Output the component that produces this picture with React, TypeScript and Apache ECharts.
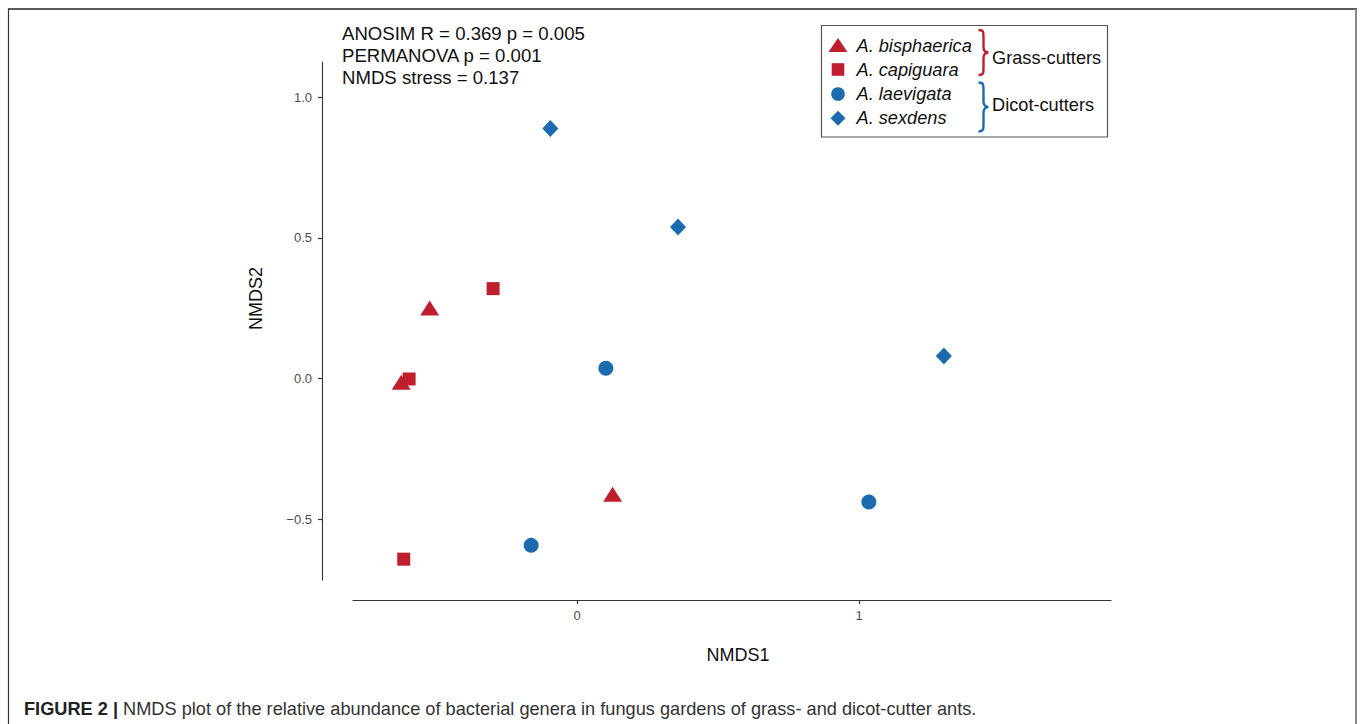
import React, { useEffect, useRef } from "react";
import * as echarts from "echarts";

// ---- data ----
const speciesNames = ["A. bisphaerica", "A. capiguara", "A. laevigata", "A. sexdens"];
const bisphaerica = [[-0.523, 0.251], [-0.624, -0.013], [0.126, -0.41]];
const capiguara = [[-0.298, 0.32], [-0.596, -0.001], [-0.615, -0.641]];
const laevigata = [[0.102, 0.037], [-0.163, -0.592], [1.035, -0.438]];
const sexdens = [[-0.095, 0.889], [0.358, 0.539], [1.301, 0.081]];
const xTicks = [0, 1];
const yTicks = [-0.5, 0, 0.5, 1];
const statsLines = ["ANOSIM R = 0.369 p = 0.005", "PERMANOVA p = 0.001", "NMDS stress = 0.137"];
const groupLabels = ["Grass-cutters", "Dicot-cutters"];
const captionBold = "FIGURE 2 |";
const captionText = " NMDS plot of the relative abundance of bacterial genera in fungus gardens of grass- and dicot-cutter ants.";

const RED = "#BE1E2D";
const BLUE = "#1B6CAE";
const FONT = "'Liberation Sans', Arial, Helvetica, sans-serif";

let braceRegistered = false;
function registerBrace() {
  if (braceRegistered) return;
  braceRegistered = true;
  const d =
    "M0,0 C5,0 5,2 5,7 L5,17 C5,21 7,22.5 10,22.5 C7,22.5 5,24 5,28 L5,38 C5,43 5,45 0,45";
  echarts.graphic.registerShape("brace", echarts.graphic.extendPath(d, {}));
}

function txt(text: string, x: number, y: number, size: number, opts: any = {}) {
  const { align = "left", vAlign = "middle", color = "#111", italic = false, rotation = 0, weight = "normal" } = opts;
  return {
    type: "text",
    x,
    y,
    rotation,
    silent: true,
    style: {
      text,
      fontSize: size,
      fontFamily: FONT,
      fontStyle: italic ? "italic" : "normal",
      fontWeight: weight,
      fill: color,
      align,
      textAlign: align,
      verticalAlign: vAlign,
      textVerticalAlign: vAlign,
    },
  };
}

export default function App() {
  const ref = useRef<HTMLDivElement>(null);

  useEffect(() => {
    document.body.style.margin = "0";
    registerBrace();
    if (!ref.current) return;
    const chart = echarts.init(ref.current, null, { renderer: "svg" });

    const yFmt = (v: number) => (v < 0 ? "\u2212" + Math.abs(v).toFixed(1) : v.toFixed(1));

    const legendRows = [45.5, 69.5, 94, 118.3];
    const legendSymX = 838;

    const graphic: any[] = [
      // figure frame
      { type: "line", silent: true, shape: { x1: 8, y1: 9, x2: 1357, y2: 9 }, style: { stroke: "#222", lineWidth: 1.5 } },
      { type: "line", silent: true, shape: { x1: 8.5, y1: 9, x2: 8.5, y2: 724 }, style: { stroke: "#333", lineWidth: 1.2 } },
      { type: "line", silent: true, shape: { x1: 1356, y1: 9, x2: 1356, y2: 724 }, style: { stroke: "#888", lineWidth: 2 } },
      // stats annotation
      ...statsLines.map((s, i) => txt(s, 342, 33 + i * 22, 18.6)),
      // axis titles
      txt("NMDS1", 738, 655, 18, { align: "center" }),
      txt("NMDS2", 256, 298.5, 18, { align: "center", rotation: Math.PI / 2 }),
      // legend box
      {
        type: "rect",
        silent: true,
        shape: { x: 821.5, y: 25.5, width: 286, height: 111.5 },
        style: { fill: "#fff", stroke: "#555", lineWidth: 1.2 },
      },
      // legend symbols
      {
        type: "polygon",
        silent: true,
        shape: { points: [[legendSymX, legendRows[0] - 7.5], [legendSymX + 9.5, legendRows[0] + 6.5], [legendSymX - 9.5, legendRows[0] + 6.5]] },
        style: { fill: RED },
      },
      { type: "rect", silent: true, shape: { x: legendSymX - 6.3, y: legendRows[1] - 6.3, width: 12.6, height: 12.6 }, style: { fill: RED } },
      { type: "circle", silent: true, shape: { cx: legendSymX, cy: legendRows[2], r: 6.8 }, style: { fill: BLUE } },
      {
        type: "polygon",
        silent: true,
        shape: { points: [[legendSymX, legendRows[3] - 7.5], [legendSymX + 7.5, legendRows[3]], [legendSymX, legendRows[3] + 7.5], [legendSymX - 7.5, legendRows[3]]] },
        style: { fill: BLUE },
      },
      ...speciesNames.map((n, i) => txt(n, 856.5, legendRows[i], 18.2, { italic: true })),
      // braces
      { type: "brace", silent: true, x: 978.5, y: 30, scaleX: 1, scaleY: 1, style: { fill: "none", stroke: RED, lineWidth: 2.4 } },
      { type: "brace", silent: true, x: 978.5, y: 82.5, scaleX: 1, scaleY: 49 / 45, style: { fill: "none", stroke: BLUE, lineWidth: 2.4 } },
      txt(groupLabels[0], 992, 57.5, 18.2),
      txt(groupLabels[1], 992, 105, 18.2),
      // caption
      {
        type: "text",
        x: 24,
        y: 709,
        silent: true,
        style: {
          text: "{b|" + captionBold + "}{n|" + captionText + "}",
          fontFamily: FONT,
          fontSize: 18.2,
          fill: "#222",
          verticalAlign: "middle",
          textVerticalAlign: "middle",
          rich: {
            b: { fontFamily: FONT, fontSize: 18.2, fontWeight: "bold", fill: "#222", color: "#222" },
            n: { fontFamily: FONT, fontSize: 18.2, fill: "#333", color: "#333" },
          },
        },
      },
    ];

    const series = [
      { name: speciesNames[0], data: bisphaerica, symbol: "triangle", symbolSize: [19, 15], color: RED },
      { name: speciesNames[1], data: capiguara, symbol: "rect", symbolSize: 13, color: RED },
      { name: speciesNames[2], data: laevigata, symbol: "circle", symbolSize: 15, color: BLUE },
      { name: speciesNames[3], data: sexdens, symbol: "diamond", symbolSize: [16, 17], color: BLUE },
    ].map((s) => ({
      type: "scatter",
      name: s.name,
      data: s.data,
      symbol: s.symbol,
      symbolSize: s.symbolSize,
      itemStyle: { color: s.color, opacity: 1 },
      emphasis: { disabled: true },
      clip: false,
      z: 3,
    }));

    chart.setOption({
      animation: false,
      backgroundColor: "#fff",
      textStyle: { fontFamily: FONT },
      grid: { left: 353, right: 249, top: 62, bottom: 144, containLabel: false },
      xAxis: {
        type: "value",
        min: -0.795,
        max: 1.894,
        offset: 20,
        axisLine: { show: true, onZero: false, lineStyle: { color: "#333", width: 1.1 } },
        axisTick: { show: true, length: 4, customValues: xTicks, lineStyle: { color: "#333", width: 1.2 } },
        axisLabel: {
          customValues: xTicks,
          margin: 9,
          color: "#4d4d4d",
          fontSize: 13,
          fontFamily: FONT,
          formatter: (v: number) => String(v),
        },
        splitLine: { show: false },
      },
      yAxis: {
        type: "value",
        min: -0.715,
        max: 1.125,
        offset: 31,
        axisLine: { show: true, onZero: false, lineStyle: { color: "#333", width: 1.1 } },
        axisTick: { show: true, length: 4, customValues: yTicks, lineStyle: { color: "#333", width: 1.2 } },
        axisLabel: {
          customValues: yTicks,
          margin: 10,
          color: "#4d4d4d",
          fontSize: 13,
          fontFamily: FONT,
          formatter: yFmt,
        },
        splitLine: { show: false },
      },
      series,
      graphic,
    });

    return () => {
      chart.dispose();
    };
  }, []);

  return <div ref={ref} style={{ width: 1360, height: 724 }} />;
}
